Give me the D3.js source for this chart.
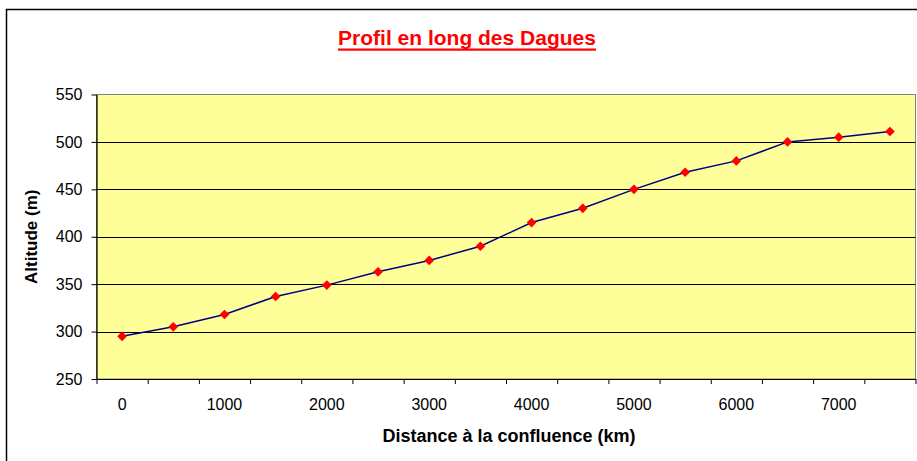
<!DOCTYPE html>
<html>
<head>
<meta charset="utf-8">
<script src="https://cdn.jsdelivr.net/npm/d3@7"></script>
<style>
  body { margin: 0; background: #fff; }
  svg { display: block; font-family: "Liberation Sans", Arial, sans-serif; }
</style>
</head>
<body>
<svg width="917" height="461"></svg>
<script>
// data
const distances = [0, 500, 1000, 1500, 2000, 2500, 3000, 3500, 4000, 4500, 5000, 5500, 6000, 6500, 7000, 7500];
const altitudes = [295, 305, 318, 337, 349, 363, 375, 390, 415, 430, 450, 468, 480, 500, 505, 511];
const xLabels = [0, 1000, 2000, 3000, 4000, 5000, 6000, 7000];
const yTicks = [250, 300, 350, 400, 450, 500, 550];

const svg = d3.select("svg");
const plotLeft = 96.5, plotRight = 915.5, plotTop = 94.5, plotBottom = 379;

// chart border
svg.append("rect")
  .attr("x", 6.5).attr("y", 9.5)
  .attr("width", 1000).attr("height", 1000)
  .attr("fill", "#fff").attr("stroke", "#000").attr("stroke-width", 1.5);

let xScale = d3.scaleBand().domain(distances).range([plotLeft, plotRight]).padding(0);
let xEdge = d3.scaleLinear().domain([0, distances.length]).range([plotLeft, plotRight]);
let yScale = d3.scaleLinear().domain([250, 550]).range([plotBottom, plotTop]);

// plot area
svg.append("rect")
  .attr("x", plotLeft).attr("y", plotTop)
  .attr("width", plotRight - plotLeft).attr("height", plotBottom - plotTop)
  .attr("fill", "#FFFF99").attr("stroke", "#808080").attr("stroke-width", 1);

// gridlines
svg.append("g").selectAll("line")
  .data(yTicks.filter(d => d > 250 && d < 550))
  .join("line")
  .attr("x1", plotLeft).attr("x2", plotRight)
  .attr("y1", d => Math.round(yScale(d)) + 0.5)
  .attr("y2", d => Math.round(yScale(d)) + 0.5)
  .attr("stroke", "#000").attr("stroke-width", 1);

// y axis
let yAxis = d3.axisLeft(yScale).tickValues(yTicks).tickSizeOuter(0).tickSizeInner(5).tickPadding(9);
svg.append("g")
  .attr("id", "yAxisG")
  .attr("transform", `translate(${plotLeft}, 0)`)
  .call(yAxis);

// x axis: ticks at category edges, labels every other category
let xTickAxis = d3.axisBottom(xEdge).tickValues(d3.range(distances.length + 1))
  .tickFormat("").tickSizeOuter(0).tickSizeInner(5);
svg.append("g")
  .attr("id", "xAxisG")
  .attr("transform", `translate(0, ${plotBottom})`)
  .call(xTickAxis);

let xLabelAxis = d3.axisBottom(xScale).tickValues(xLabels).tickSize(0).tickPadding(20);
svg.append("g")
  .attr("id", "xLabelG")
  .attr("transform", `translate(0, ${plotBottom})`)
  .call(xLabelAxis)
  .call(g => g.select(".domain").remove());

svg.selectAll("#yAxisG path.domain, #xAxisG path.domain")
  .attr("stroke", "#000").attr("stroke-width", 1.2);
svg.selectAll("#yAxisG line, #xAxisG line").attr("stroke", "#000");
svg.selectAll("#yAxisG text, #xLabelG text")
  .style("font-size", "16px").style("font-family", "Liberation Sans, Arial, sans-serif")
  .attr("fill", "#000");

// line
const cx = d => xScale(d) + xScale.bandwidth() / 2;
let altLine = d3.line()
  .x((d, i) => cx(distances[i]))
  .y(d => yScale(d));
svg.append("path")
  .attr("d", altLine(altitudes))
  .attr("fill", "none")
  .attr("stroke", "#000080")
  .attr("stroke-width", 1.5);

// markers
svg.append("g").selectAll("path")
  .data(altitudes)
  .join("path")
  .attr("d", d3.symbol(d3.symbolDiamond2, 60))
  .attr("transform", (d, i) => `translate(${cx(distances[i])}, ${yScale(d)})`)
  .attr("fill", "#FF0000");

// title
let title = svg.append("text")
  .attr("x", 467).attr("y", 45)
  .attr("text-anchor", "middle")
  .style("font-size", "21px").style("font-weight", "bold")
  .attr("fill", "#FF0000")
  .text("Profil en long des Dagues");
let tb = title.node().getBBox();
svg.append("rect")
  .attr("x", tb.x).attr("y", 48.5)
  .attr("width", tb.width).attr("height", 2.2)
  .attr("fill", "#FF0000");

// axis titles
svg.append("text")
  .attr("x", 509).attr("y", 442)
  .attr("text-anchor", "middle")
  .style("font-size", "18px").style("font-weight", "bold")
  .text("Distance à la confluence (km)");

svg.append("text")
  .attr("transform", `translate(37, ${(plotTop + plotBottom) / 2}) rotate(-90)`)
  .attr("text-anchor", "middle")
  .style("font-size", "17px").style("font-weight", "bold")
  .text("Altitude (m)");
</script>
</body>
</html>
